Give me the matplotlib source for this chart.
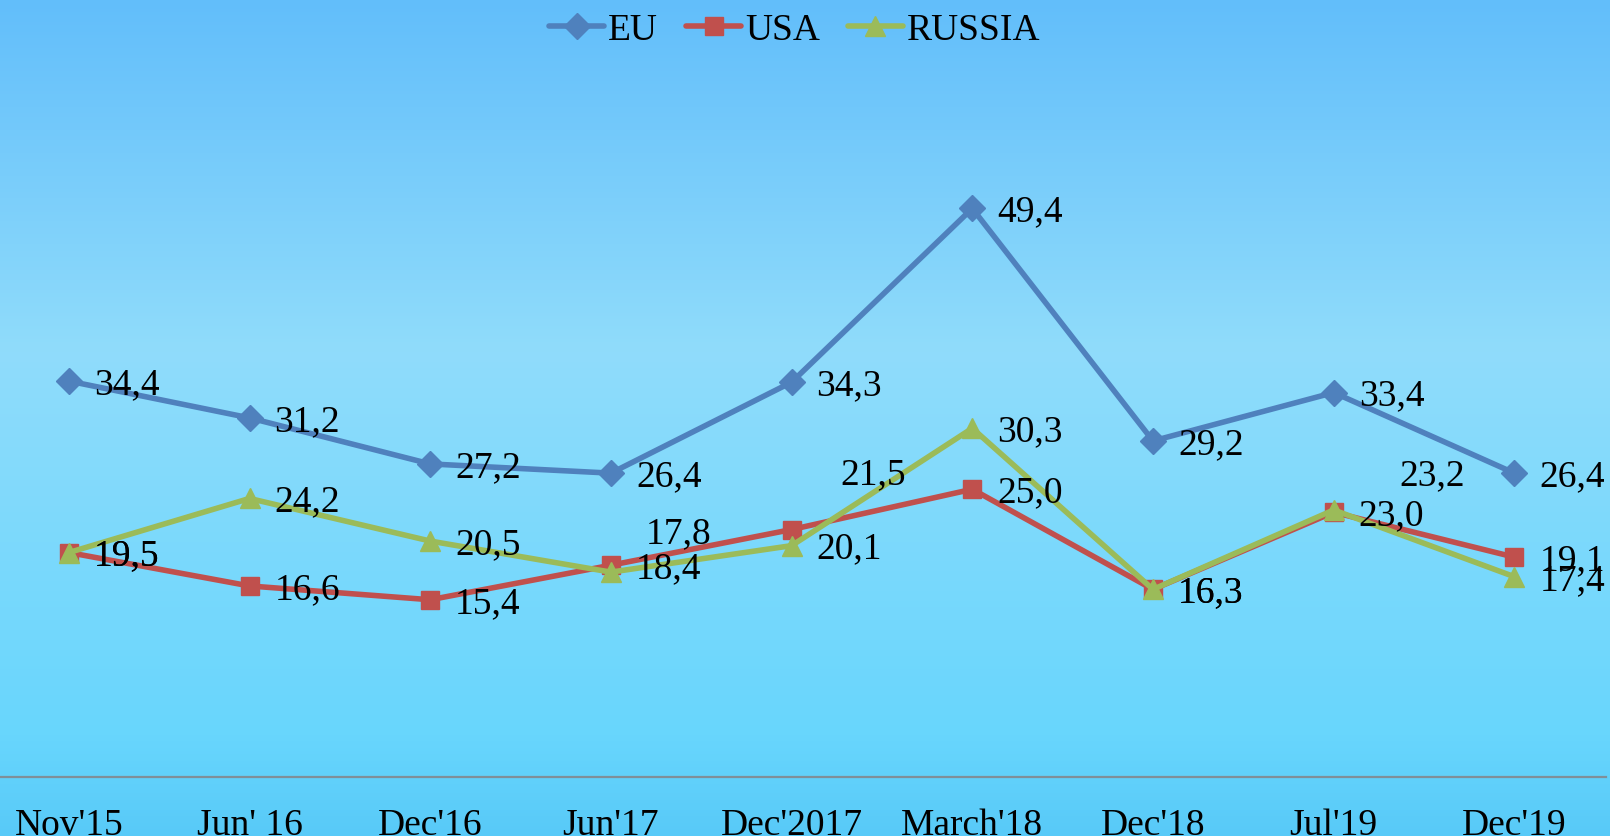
import matplotlib
matplotlib.use("Agg")
import matplotlib.pyplot as plt
import numpy as np
from matplotlib.colors import LinearSegmentedColormap

# chart data
periods = ["Nov'15", "Jun' 16", "Dec'16", "Jun'17", "Dec'2017",
           "March'18", "Dec'18", "Jul'19", "Dec'19"]
eu = [34.4, 31.2, 27.2, 26.4, 34.3, 49.4, 29.2, 33.4, 26.4]
usa = [19.5, 16.6, 15.4, 18.4, 21.5, 25.0, 16.3, 23.0, 19.1]
russia = [19.5, 24.2, 20.5, 17.8, 20.1, 30.3, 16.3, 23.2, 17.4]

plt.rcParams["font.family"] = ["Liberation Serif", "DejaVu Serif"]
FS = 27

W, H, DPI = 1610, 837, 100
fig = plt.figure(figsize=(W / DPI, H / DPI), dpi=DPI)

# background gradient
bg = fig.add_axes([0, 0, 1, 1], zorder=-1)
cmap = LinearSegmentedColormap.from_list(
    "bg",
    [(0.0, "#62befa"), (0.42, "#90dcfb"), (0.88, "#68d6fd"), (1.0, "#58caf8")],
)
bg.imshow(np.linspace(0, 1, 256).reshape(-1, 1), aspect="auto", cmap=cmap,
          extent=[0, 1, 0, 1], origin="upper")
bg.set_axis_off()

# plot area placement (pixels)
axis_y = 778
top_y = 60
step = 180.7
first_x = 68.8
px_per_unit = 11.51
ax = fig.add_axes([0, (H - axis_y) / H, 1606 / W, (axis_y - top_y) / H])
ax.patch.set_alpha(0)
x = np.arange(len(periods))
ax.set_xlim(-first_x / step, -first_x / step + 1606 / step)
ax.set_ylim(0, (axis_y - top_y) / px_per_unit)

series = [
    ("EU", eu, "#4f81bd", "D", 13),
    ("USA", usa, "#c0504d", "s", 13),
    ("RUSSIA", russia, "#9bbb59", "^", 14),
]
for name, vals, color, marker, ms in series:
    ax.plot(x, vals, color=color, lw=4, marker=marker, ms=ms,
            label=name, solid_capstyle="round", clip_on=False)

# data labels: default right of the point, a few moved by hand
default_off = (18, -2)
moved = {("RUSSIA", 3): (25, 28), ("USA", 4): (35, 40), ("RUSSIA", 7): (47, 25)}
for name, vals, color, marker, ms in series:
    for i, v in enumerate(vals):
        off = moved.get((name, i), default_off)
        ax.annotate(f"{v:.1f}".replace(".", ","), (x[i], v),
                    xytext=off, textcoords="offset points",
                    ha="left", va="center", fontsize=FS, color="black",
                    annotation_clip=False)

for s in ["top", "left", "right"]:
    ax.spines[s].set_visible(False)
ax.spines["bottom"].set_color("#7f8f99")
ax.spines["bottom"].set_linewidth(1.6)
ax.set_yticks([])
ax.set_xticks(x)
ax.set_xticklabels(periods, fontsize=FS)
ax.tick_params(axis="x", length=0, pad=22)

fig.legend(loc="center", bbox_to_anchor=(795 / W, 1 - 31 / H), ncol=3,
           frameon=False, fontsize=FS, handlelength=1.45,
           handletextpad=0.12, columnspacing=0.75, borderaxespad=0)

fig.savefig("out.png", dpi=DPI)
